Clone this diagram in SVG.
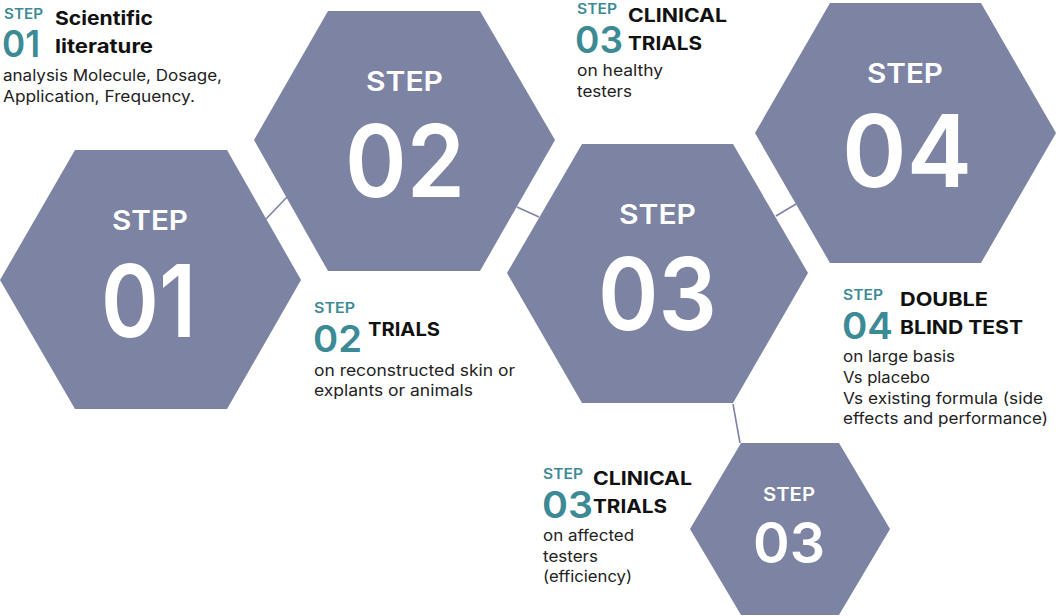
<svg xmlns="http://www.w3.org/2000/svg" width="1056" height="616" viewBox="0 0 1056 616">
<style>
.hex{fill:#7c83a3}
.conn{stroke:#7c83a3;stroke-width:1.6;fill:none}
text{font-family:Inter,"Open Sans","Liberation Sans",sans-serif}
.hs{fill:#fff;font-weight:600;text-anchor:middle}
.ts{fill:#3c8a95;font-weight:600}
.tt{fill:#111;font-weight:700;font-size:19px}
.tb{fill:#222;font-weight:400;font-size:16px}
</style>
<rect width="1056" height="616" fill="#fff"/>
<g id="connectors">
<line class="conn" x1="266" y1="219" x2="287" y2="197"/>
<line class="conn" x1="517" y1="207" x2="539" y2="217"/>
<line class="conn" x1="776" y1="216" x2="796" y2="204"/>
<line class="conn" x1="733" y1="404" x2="740" y2="443"/>
</g>
<g id="step01">
<polygon class="hex" points="0,280 75,150 227,150 301,280 227,409 75,409"/>
<text class="hs" x="150" y="230" font-size="27.5" textLength="76" lengthAdjust="spacingAndGlyphs">STEP</text>
<text class="hs" x="148.5" y="337" font-size="100" textLength="95" lengthAdjust="spacingAndGlyphs">01</text>
</g>
<g id="step02">
<polygon class="hex" points="254,140 328,11 480,11 555,140 480,271 328,271"/>
<text class="hs" x="404.5" y="91" font-size="27.5" textLength="77" lengthAdjust="spacingAndGlyphs">STEP</text>
<text class="hs" x="405" y="197" font-size="100" textLength="120" lengthAdjust="spacingAndGlyphs">02</text>
</g>
<g id="step03">
<polygon class="hex" points="507,273 582,144 733,144 808,273 733,403 582,403"/>
<text class="hs" x="657.5" y="223.5" font-size="27.5" textLength="77" lengthAdjust="spacingAndGlyphs">STEP</text>
<text class="hs" x="657.5" y="330" font-size="100" textLength="119" lengthAdjust="spacingAndGlyphs">03</text>
</g>
<g id="step04">
<polygon class="hex" points="755,133 830,3 981,3 1056,133 981,263 830,263"/>
<text class="hs" x="905" y="83" font-size="27.5" textLength="76" lengthAdjust="spacingAndGlyphs">STEP</text>
<text class="hs" x="907" y="187" font-size="100" textLength="130" lengthAdjust="spacingAndGlyphs">04</text>
</g>
<g id="step03b">
<polygon class="hex" points="690,529 741,443 839,443 890,529 839,615 741,615"/>
<text class="hs" x="789" y="501" font-size="19" textLength="52" lengthAdjust="spacingAndGlyphs">STEP</text>
<text class="hs" x="789" y="563" font-size="56" textLength="72" lengthAdjust="spacingAndGlyphs">03</text>
</g>
<g id="label01">
<text class="ts" x="4" y="19" font-size="14.5" textLength="39" lengthAdjust="spacingAndGlyphs">STEP</text>
<text class="ts" x="2" y="57" font-size="37" textLength="38" lengthAdjust="spacingAndGlyphs">01</text>
<text class="tt" x="55" y="25" textLength="98" lengthAdjust="spacingAndGlyphs">Scientific</text>
<text class="tt" x="55" y="53" textLength="98" lengthAdjust="spacingAndGlyphs">literature</text>
<text class="tb" x="3" y="81" textLength="219" lengthAdjust="spacingAndGlyphs">analysis Molecule, Dosage,</text>
<text class="tb" x="3" y="101.5" textLength="192" lengthAdjust="spacingAndGlyphs">Application, Frequency.</text>
</g>
<g id="label02">
<text class="ts" x="314" y="313" font-size="14.5" textLength="41" lengthAdjust="spacingAndGlyphs">STEP</text>
<text class="ts" x="313" y="352" font-size="37" textLength="49" lengthAdjust="spacingAndGlyphs">02</text>
<text class="tt" x="368" y="336" textLength="72" lengthAdjust="spacingAndGlyphs">TRIALS</text>
<text class="tb" x="314" y="376" textLength="201" lengthAdjust="spacingAndGlyphs">on reconstructed skin or</text>
<text class="tb" x="314" y="396" textLength="159" lengthAdjust="spacingAndGlyphs">explants or animals</text>
</g>
<g id="label03">
<text class="ts" x="577" y="14" font-size="14.5" textLength="40" lengthAdjust="spacingAndGlyphs">STEP</text>
<text class="ts" x="575" y="53" font-size="37" textLength="48" lengthAdjust="spacingAndGlyphs">03</text>
<text class="tt" x="628" y="22" textLength="99" lengthAdjust="spacingAndGlyphs">CLINICAL</text>
<text class="tt" x="628" y="50" textLength="74" lengthAdjust="spacingAndGlyphs">TRIALS</text>
<text class="tb" x="577" y="76" textLength="86" lengthAdjust="spacingAndGlyphs">on healthy</text>
<text class="tb" x="577" y="97" textLength="55" lengthAdjust="spacingAndGlyphs">testers</text>
</g>
<g id="label04">
<text class="ts" x="843" y="300" font-size="14.5" textLength="40" lengthAdjust="spacingAndGlyphs">STEP</text>
<text class="ts" x="842" y="339" font-size="37" textLength="51" lengthAdjust="spacingAndGlyphs">04</text>
<text class="tt" x="900" y="306" textLength="88" lengthAdjust="spacingAndGlyphs">DOUBLE</text>
<text class="tt" x="900" y="334" textLength="123" lengthAdjust="spacingAndGlyphs">BLIND TEST</text>
<text class="tb" x="843" y="362" textLength="112" lengthAdjust="spacingAndGlyphs">on large basis</text>
<text class="tb" x="843" y="383" textLength="87" lengthAdjust="spacingAndGlyphs">Vs placebo</text>
<text class="tb" x="843" y="404" textLength="200" lengthAdjust="spacingAndGlyphs">Vs existing formula (side</text>
<text class="tb" x="843" y="424" textLength="205" lengthAdjust="spacingAndGlyphs">effects and performance)</text>
</g>
<g id="label03b">
<text class="ts" x="543" y="479" font-size="14.5" textLength="40" lengthAdjust="spacingAndGlyphs">STEP</text>
<text class="ts" x="542" y="518" font-size="37" textLength="51" lengthAdjust="spacingAndGlyphs">03</text>
<text class="tt" x="593" y="485" textLength="99" lengthAdjust="spacingAndGlyphs">CLINICAL</text>
<text class="tt" x="593" y="513" textLength="74" lengthAdjust="spacingAndGlyphs">TRIALS</text>
<text class="tb" x="543" y="541" textLength="91" lengthAdjust="spacingAndGlyphs">on affected</text>
<text class="tb" x="543" y="562" textLength="55" lengthAdjust="spacingAndGlyphs">testers</text>
<text class="tb" x="543" y="582" textLength="89" lengthAdjust="spacingAndGlyphs">(efficiency)</text>
</g>
</svg>
